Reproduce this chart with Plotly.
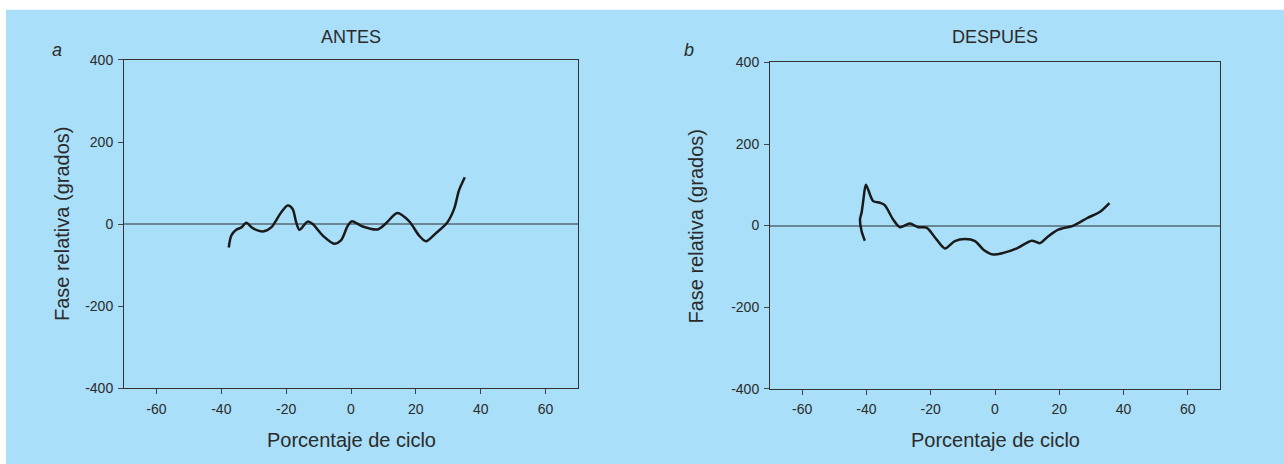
import plotly.graph_objects as go

# ANTES (panel a)
antes_x = [-37.7, -36.9, -35.4, -33.8, -32.3, -30.3, -27.2, -24.6, -21.5, -19.5, -18.0, -16.9, -15.9,
           -13.4, -11.8, -8.7, -5.1, -3.1, -1.0, 0.3, 3.6, 8.2, 10.8, 14.3, 17.9, 21.0, 23.1, 26.2,
           29.7, 31.8, 33.3, 35.1]
antes_y = [-57, -28, -14, -8, 3, -10, -18, -8, 29, 45, 37, 4, -14,
           6, 0, -28, -48, -40, -4, 7, -6, -13, 2, 27, 7, -28, -42, -22,
           4, 37, 82, 114]

# DESPUÉS (panel b)
despues_x = [-40.5, -41.5, -42.0, -41.5, -41.0, -40.2, -39.5, -37.9, -35.8, -34.3, -31.7, -29.6, -26.5,
             -23.9, -21.3, -18.2, -15.6, -12.5, -9.3, -6.2, -3.6, -0.5, 2.6, 6.8, 11.4, 14.0, 16.6,
             19.7, 24.4, 28.6, 32.7, 35.6]
despues_y = [-37, -14, 15, 32, 60, 100, 89, 60, 56, 50, 15, -4, 5,
             -4, -5, -34, -56, -38, -33, -38, -59, -71, -67, -56, -37, -43, -26,
             -10, 0, 18, 34, 55]

x_ticks = [-60, -40, -20, 0, 20, 40, 60]
x_ticktext = ["-60", "-40", "-20", "0", "20", "40", "60"]
y_ticks = [-400, -200, 0, 200, 400]
y_ticktext = ["-400", "-200", "0", "200", "400"]
titles = ["ANTES", "DESPUÉS"]
letters = ["a", "b"]
x_title = "Porcentaje de ciclo"
y_title = "Fase relativa (grados)"

BG = "#a9dff8"
TXT = "#2b2b2b"
FONT = "Liberation Sans"

W, H = 1284, 482
# vertical mapping observed in the photographed page: shown_y = 8.2 + 0.9633 * page_y
SY, OY = 0.9633, 8.2

def page_y(v):
    return (v - OY) / SY

def px_x(v):
    return v / W

def px_y(v):
    return 1 - page_y(v) / H

fig = go.Figure()
fig.add_trace(go.Scatter(x=antes_x, y=antes_y, mode="lines",
                         line=dict(color="#1a1a1a", width=2.5, shape="spline", smoothing=0.8),
                         xaxis="x", yaxis="y", showlegend=False, hoverinfo="skip"))
fig.add_trace(go.Scatter(x=despues_x, y=despues_y, mode="lines",
                         line=dict(color="#1a1a1a", width=2.5, shape="spline", smoothing=0.8),
                         xaxis="x2", yaxis="y2", showlegend=False, hoverinfo="skip"))

# target picture-pixel plot areas
doms = [((124, 578), (60, 387)), ((770, 1220), (62.5, 387.5))]
ytitle_x = [62, 696]

def xax(d, anchor):
    return dict(domain=[px_x(d[0][0]), px_x(d[0][1])], range=[-70, 70], tickvals=x_ticks, ticktext=x_ticktext,
                ticks="outside", ticklen=5, tickcolor="#444", showline=True, mirror=True, linecolor="#333",
                linewidth=1, showgrid=False, zeroline=False, anchor=anchor, ticklabelstandoff=3,
                tickfont=dict(size=14, color=TXT, family=FONT))

def yax(d, anchor):
    return dict(domain=[px_y(d[1][1]), px_y(d[1][0])], range=[-400, 400], tickvals=y_ticks, ticktext=y_ticktext,
                ticks="outside", ticklen=5, tickcolor="#444", showline=True, mirror=True, linecolor="#333",
                linewidth=1, showgrid=False, zeroline=True, zerolinecolor="#6a8796", zerolinewidth=1.5,
                anchor=anchor, ticklabelstandoff=2, tickfont=dict(size=14, color=TXT, family=FONT))

annotations = []
for i, d in enumerate(doms):
    cx = px_x((d[0][0] + d[0][1]) / 2)
    annotations.append(dict(text=titles[i], x=cx, y=px_y(37), xref="paper", yref="paper", showarrow=False,
                            font=dict(size=18, color=TXT, family=FONT), xanchor="center", yanchor="middle"))
    annotations.append(dict(text=x_title, x=cx, y=px_y(439), xref="paper", yref="paper", showarrow=False,
                            font=dict(size=20, color=TXT, family=FONT), xanchor="center", yanchor="middle"))
    annotations.append(dict(text=y_title, x=px_x(ytitle_x[i]), y=px_y((d[1][0] + d[1][1]) / 2),
                            xref="paper", yref="paper", showarrow=False, textangle=-90,
                            font=dict(size=20, color=TXT, family=FONT), xanchor="center", yanchor="middle"))
lx = [57, 689]
for i in range(2):
    annotations.append(dict(text="<i>" + letters[i] + "</i>", x=px_x(lx[i]), y=px_y(50), xref="paper", yref="paper",
                            showarrow=False, font=dict(size=18, color=TXT, family=FONT),
                            xanchor="center", yanchor="middle"))

fig.update_layout(
    width=W, height=H, margin=dict(l=0, r=0, t=0, b=0),
    paper_bgcolor="white", plot_bgcolor=BG,
    xaxis=xax(doms[0], "y"), yaxis=yax(doms[0], "x"),
    xaxis2=xax(doms[1], "y2"), yaxis2=yax(doms[1], "x2"),
    annotations=annotations,
    hovermode=False,
    shapes=[dict(type="rect", xref="paper", yref="paper", x0=px_x(6), x1=1, y0=0, y1=px_y(10),
                 fillcolor=BG, line=dict(width=0), layer="below")],
)
fig.write_html("out.html", config={"displayModeBar": False},
               post_script="document.body.style.margin='0';document.body.style.overflow='hidden';")
